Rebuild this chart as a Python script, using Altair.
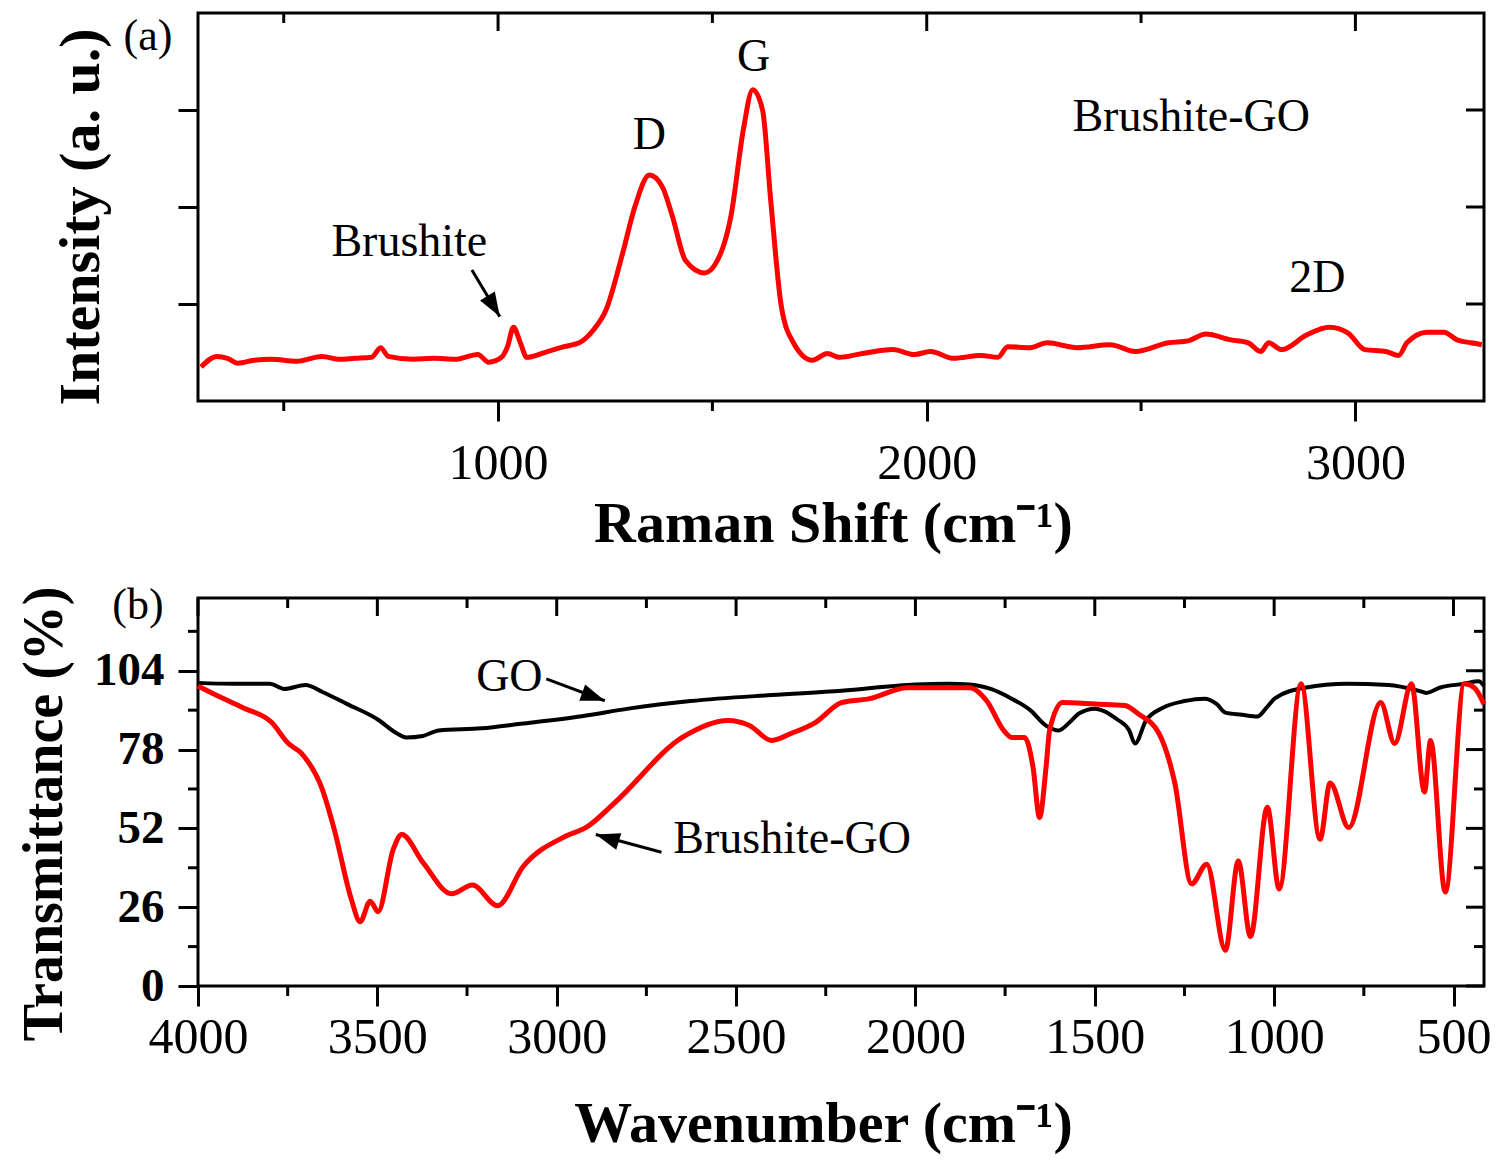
import altair as alt
import pandas as pd

W, H = 1286, 388
FONT = "Liberation Serif"

# ---------------- (a) Raman spectrum ----------------
raman_x = [307, 344, 369, 393, 430, 471, 530, 589, 630, 666, 705, 726, 744, 802, 850,
           900, 953, 978, 1008, 1022, 1036, 1052, 1067, 1115, 1154, 1193, 1222, 1252,
           1291, 1319, 1353, 1383, 1407, 1437, 1481, 1520, 1543, 1573, 1594, 1617, 1636,
           1661, 1689, 1733, 1768, 1797, 1850, 1921, 1971, 2009, 2063, 2126, 2166, 2189,
           2240, 2281, 2351, 2428, 2487, 2564, 2610, 2651, 2710, 2750, 2779, 2798, 2828,
           2886, 2939, 2983, 3022, 3071, 3101, 3120, 3168, 3207, 3237, 3270, 3295]
raman_y = [0.35, 0.46, 0.44, 0.39, 0.42, 0.43, 0.41, 0.46, 0.43, 0.44, 0.45, 0.55, 0.46, 0.43, 0.44,
           0.43, 0.48, 0.40, 0.45, 0.56, 0.76, 0.60, 0.45, 0.51, 0.56, 0.61, 0.73, 0.94,
           1.53, 2.00, 2.33, 2.21, 1.90, 1.45, 1.32, 1.53, 1.90, 2.82, 3.21, 3.00, 2.07,
           0.97, 0.60, 0.42, 0.49, 0.45, 0.49, 0.53, 0.48, 0.51, 0.44, 0.47, 0.45, 0.56,
           0.55, 0.60, 0.55, 0.58, 0.51, 0.60, 0.62, 0.69, 0.63, 0.60, 0.51, 0.60, 0.53,
           0.68, 0.76, 0.70, 0.53, 0.51, 0.47, 0.60, 0.71, 0.71, 0.63, 0.60, 0.58]

raman_major = [1000, 2000, 3000]
raman_minor = [500, 1500, 2500]
raman_yticks = [1, 2, 3]

raman_labels = ["Brushite", "D", "G", "2D", "Brushite-GO"]
raman_label_x = [793, 1353, 1596, 2911, 2617]
raman_label_y = [1.64, 2.74, 3.55, 1.27, 2.93]
raman_arrow_x = [939, 1004]
raman_arrow_y = [1.35, 0.87]

# ---------------- (b) FTIR spectra ----------------
go_x = [4000, 3900, 3800, 3760, 3700, 3653, 3584, 3500, 3445, 3420, 3373, 3329, 3210, 3100,
        2930, 2800, 2627, 2400, 2206, 2000, 1906, 1850, 1790, 1732, 1680, 1637, 1601, 1570,
        1543, 1499, 1438, 1404, 1388, 1357, 1310, 1250, 1194, 1160, 1136, 1090, 1047, 1020,
        997, 914, 797, 681, 600, 575, 539, 470, 430, 415]
go_y = [100, 99.7, 99.7, 98.0, 99.3, 97, 93, 88, 83.3, 82, 82.5, 84.3, 85, 86.5,
        89, 91.5, 94, 96, 97.4, 99.5, 99.7, 99.5, 98, 94.8, 91, 86, 84.3, 87,
        90, 91.5, 88, 84.3, 80, 87.6, 91.8, 94, 94.8, 93, 90.2, 89.5, 88.9, 92,
        95, 98.4, 99.7, 99.3, 97.5, 96.7, 98.4, 99.7, 100.5, 99]

bgo_x = [4000, 3950, 3875, 3795, 3748, 3712, 3653, 3620, 3573, 3548, 3520, 3498, 3456, 3432,
         3373, 3293, 3235, 3165, 3093, 2977, 2918, 2838, 2650, 2522, 2464, 2400, 2347, 2278,
         2206, 2128, 2023, 1848, 1801, 1754, 1732, 1696, 1672, 1654, 1636, 1626, 1590, 1499,
         1416, 1380, 1321, 1277, 1230, 1188, 1136, 1100, 1066, 1019, 986, 925, 872, 844,
         792, 703, 664, 617, 581, 564, 523, 470, 442, 415]
bgo_y = [99, 96, 91.8, 87, 80, 76.8, 64.7, 51.6, 28.8, 21.2, 28, 24.5, 45, 50,
         40.8, 30.4, 33.3, 26.5, 39.5, 49.3, 52.3, 60.5, 82, 87.6, 86, 81, 83.3, 87,
         93.5, 94.8, 98.4, 98.4, 94, 84.3, 82, 82, 72, 55.6, 72, 84.3, 93.5, 93,
         92.5, 89.9, 83.3, 67, 33.7, 40.2, 11.8, 41.2, 16.3, 59, 32, 99.7, 48.4, 67,
         52.3, 93.5, 80, 99.7, 64, 81, 31, 99.7, 98.4, 93]

ftir_major = [4000, 3500, 3000, 2500, 2000, 1500, 1000, 500]
ftir_minor = [3750, 3250, 2750, 2250, 1750, 1250, 750]
ftir_ymajor = [0, 26, 52, 78, 104]
ftir_yminor = [13, 39, 65, 91, 117]

ftir_labels = ["GO", "Brushite-GO"]
ftir_label_x = [3132, 2675]
ftir_label_y = [102, 48.4]
ftir_label_align = ["center", "left"]
go_arrow_x = [3029, 2866]
go_arrow_y = [101.3, 94.1]
bgo_arrow_x = [2708, 2891]
bgo_arrow_y = [44.1, 50.0]

ARROW = "M0,0L-0.36,1L0.36,1Z"


def xtick_rules(vals, xscale, y0, y1):
    return alt.Chart(pd.DataFrame({"x": vals})).mark_rule(color="black", strokeWidth=3).encode(
        x=alt.X("x:Q", scale=xscale), y=alt.value(y0), y2=alt.value(y1))


def ytick_rules(vals, yscale, x0, x1):
    return alt.Chart(pd.DataFrame({"y": vals})).mark_rule(color="black", strokeWidth=3).encode(
        y=alt.Y("y:Q", scale=yscale), x=alt.value(x0), x2=alt.value(x1))


def arrow(xs, ys, angle, xscale, yscale):
    df = pd.DataFrame({"x": xs, "y": ys})
    shaft = alt.Chart(df).mark_line(color="black", strokeWidth=3).encode(
        x=alt.X("x:Q", scale=xscale), y=alt.Y("y:Q", scale=yscale))
    head = alt.Chart(df.iloc[[1]]).mark_point(
        shape=ARROW, filled=True, color="black", opacity=1, size=2304, angle=angle
    ).encode(x=alt.X("x:Q", scale=xscale), y=alt.Y("y:Q", scale=yscale))
    return shaft + head


# ---------------- panel (a) ----------------
xs_a = alt.Scale(domain=[300, 3300], nice=False, zero=False)
ys_a = alt.Scale(domain=[0, 4], nice=False, zero=False)

raman_line = alt.Chart(pd.DataFrame({"x": raman_x, "y": raman_y})).mark_line(
    color="#ff0000", strokeWidth=5, interpolate="monotone"
).encode(
    x=alt.X("x:Q", scale=xs_a, axis=alt.Axis(
        values=raman_major, format="d", tickSize=20, labelFontSize=50, labelPadding=17,
        title="Raman Shift (cm⁻¹)", titleFontSize=58, titleX=635, titleY=140,
        titleBaseline="alphabetic")),
    y=alt.Y("y:Q", scale=ys_a, axis=alt.Axis(
        values=raman_yticks, labels=False, tickSize=20,
        title="Intensity (a. u.)", titleFontSize=58, titleAngle=270, titleX=-100, titleY=15,
        titleBaseline="alphabetic", titleAlign="right")),
)

raman_text = alt.Chart(pd.DataFrame({"x": raman_label_x, "y": raman_label_y, "t": raman_labels})).mark_text(
    font=FONT, fontSize=46, color="black", baseline="middle"
).encode(x=alt.X("x:Q", scale=xs_a), y=alt.Y("y:Q", scale=ys_a), text="t:N")

tag_a = alt.Chart(pd.DataFrame({"t": ["(a)"]})).mark_text(
    font=FONT, fontSize=44, color="black", baseline="alphabetic"
).encode(x=alt.value(-50), y=alt.value(37), text="t:N")

panel_a = alt.layer(
    raman_line,
    xtick_rules(raman_minor, xs_a, H, H + 10),
    xtick_rules(raman_major, xs_a, 0, 18),
    xtick_rules(raman_minor, xs_a, 0, 10),
    ytick_rules(raman_yticks, ys_a, W - 18, W),
    raman_text,
    arrow(raman_arrow_x, raman_arrow_y, 149, xs_a, ys_a),
    tag_a,
).properties(width=W, height=H)

# ---------------- panel (b) ----------------
xs_b = alt.Scale(domain=[415, 4000], reverse=True, nice=False, zero=False)
ys_b = alt.Scale(domain=[0, 128], nice=False, zero=False)

go_line = alt.Chart(pd.DataFrame({"x": go_x, "y": go_y})).mark_line(
    color="black", strokeWidth=4, interpolate="monotone"
).encode(
    x=alt.X("x:Q", scale=xs_b, axis=alt.Axis(
        values=ftir_major, format="d", tickSize=20, labelFontSize=50, labelPadding=6,
        title="Wavenumber (cm⁻¹)", titleFontSize=58, titleX=625, titleY=155,
        titleBaseline="alphabetic")),
    y=alt.Y("y:Q", scale=ys_b, axis=alt.Axis(
        values=ftir_ymajor, format="d", tickSize=20, labelFontSize=47, labelFontWeight="bold",
        labelPadding=14, title="Transmittance (%)", titleFontSize=56, titleAngle=270,
        titleX=-137, titleY=-12, titleBaseline="alphabetic", titleAlign="right")),
)

bgo_line = alt.Chart(pd.DataFrame({"x": bgo_x, "y": bgo_y})).mark_line(
    color="#ff0000", strokeWidth=5, interpolate="monotone"
).encode(x=alt.X("x:Q", scale=xs_b), y=alt.Y("y:Q", scale=ys_b))

ftir_df = pd.DataFrame({"x": ftir_label_x, "y": ftir_label_y, "t": ftir_labels, "a": ftir_label_align})
ftir_text = alt.layer(*[
    alt.Chart(ftir_df[ftir_df["a"] == a]).mark_text(
        font=FONT, fontSize=46, color="black", baseline="middle", align=a
    ).encode(x=alt.X("x:Q", scale=xs_b), y=alt.Y("y:Q", scale=ys_b), text="t:N")
    for a in ["center", "left"]
])

tag_b = alt.Chart(pd.DataFrame({"t": ["(b)"]})).mark_text(
    font=FONT, fontSize=44, color="black", baseline="alphabetic"
).encode(x=alt.value(-60), y=alt.value(21), text="t:N")

panel_b = alt.layer(
    go_line,
    bgo_line,
    xtick_rules(ftir_minor, xs_b, H, H + 10),
    xtick_rules(ftir_major, xs_b, 0, 18),
    xtick_rules(ftir_minor, xs_b, 0, 10),
    ytick_rules(ftir_yminor, ys_b, -10, 0),
    ytick_rules(ftir_ymajor, ys_b, W - 18, W),
    ytick_rules(ftir_yminor, ys_b, W - 10, W),
    ftir_text,
    arrow(go_arrow_x, go_arrow_y, 110, xs_b, ys_b),
    arrow(bgo_arrow_x, bgo_arrow_y, 287, xs_b, ys_b),
    tag_b,
).properties(width=W, height=H)

chart = alt.vconcat(panel_a, panel_b, spacing=27).properties(
    padding={"left": 6, "top": 2, "right": 0, "bottom": 0}
).configure(
    font=FONT, background="white"
).configure_view(
    stroke="black", strokeWidth=3
).configure_axis(
    domain=False, grid=False, tickColor="black", tickWidth=3, labelColor="black",
    labelFont=FONT, labelFlush=False, labelOverlap=False, titleFont=FONT, titleColor="black",
    titleFontWeight="bold"
)

chart.save("out.html", embed_options={"renderer": "svg", "actions": False})
